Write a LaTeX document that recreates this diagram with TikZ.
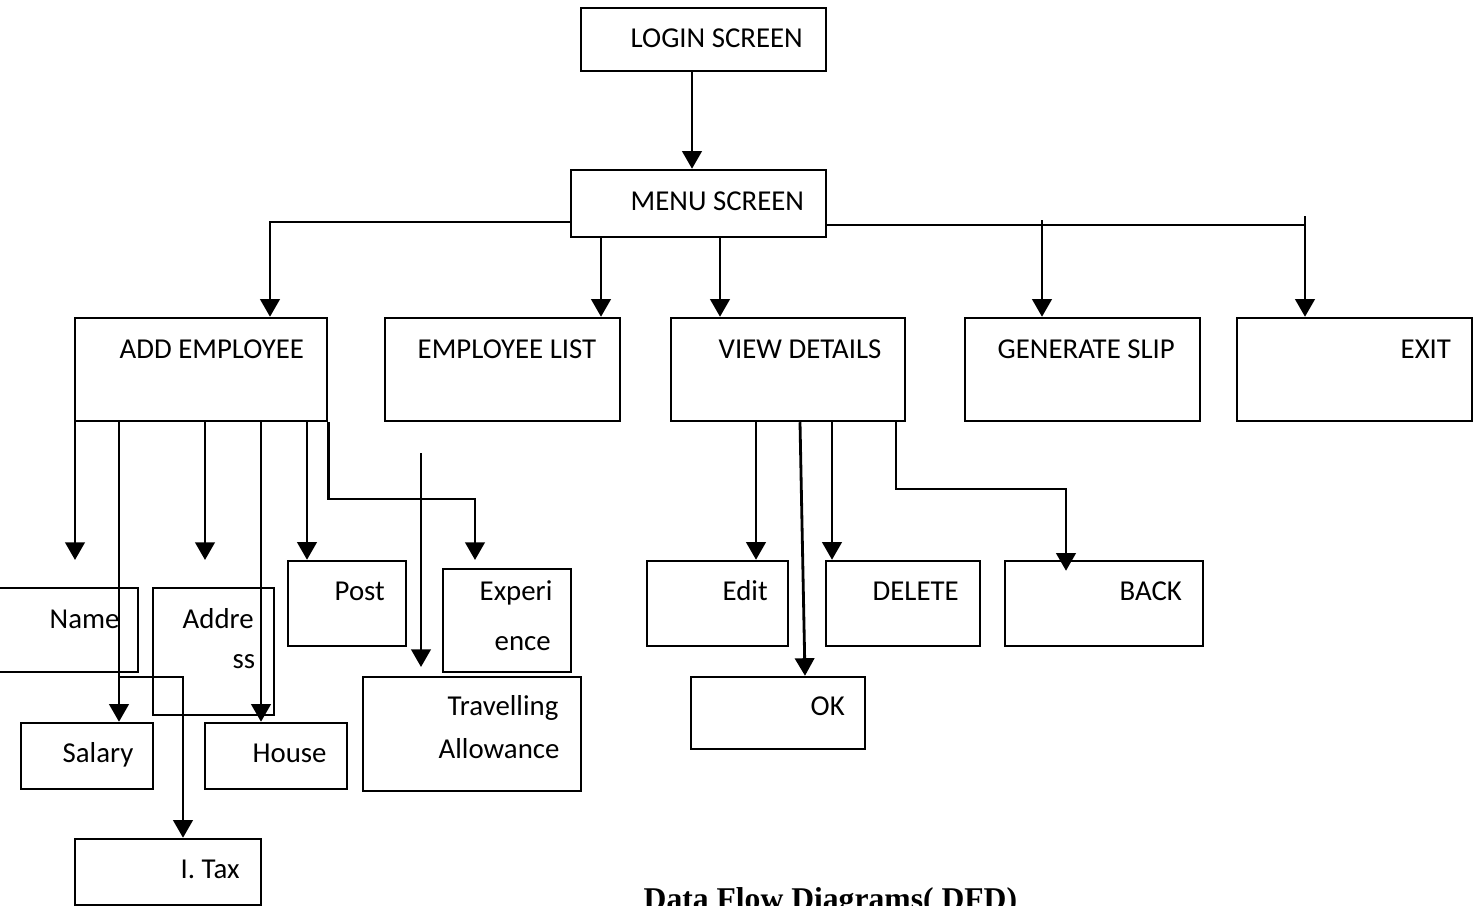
\documentclass[tikz,border=0pt]{standalone}
\usepackage{fontspec}
\setmainfont{Carlito}
\newfontfamily\titlefont{Liberation Serif}
\usepackage{tikz}
\usetikzlibrary{arrows.meta}

\tikzset{
	box/.style={draw, line width=0.7pt, inner sep=0pt},
	lbl/.style={anchor=base west, inner sep=0pt, font=\fontsize{8.2}{9.8}\selectfont},
	arr/.style={-{Triangle[length=5pt,width=5.5pt]}, line width=0.8pt},
	ln/.style={line width=0.8pt}
}

\begin{document}
\begin{tikzpicture}
		\clip (0,0) rectangle (14.8,-9.06);
		
		\node[box, minimum width=2.45cm, minimum height=0.63cm] (login) at (7.035,-0.395) {};
		\node[box, minimum width=2.55cm, minimum height=0.67cm] (menu) at (6.985,-2.035) {};
		\node[box, minimum width=2.52cm, minimum height=1.03cm] (addemp) at (2.01,-3.695) {};
		\node[box, minimum width=2.35cm, minimum height=1.03cm] (emplist) at (5.025,-3.695) {};
		\node[box, minimum width=2.34cm, minimum height=1.03cm] (viewdet) at (7.88,-3.695) {};
		\node[box, minimum width=2.35cm, minimum height=1.03cm] (genslip) at (10.825,-3.695) {};
		\node[box, minimum width=2.35cm, minimum height=1.03cm] (exit) at (13.545,-3.695) {};
		
		\node[box, minimum width=1.43cm, minimum height=0.84cm] (name) at (0.665,-6.30) {};
		\node[box, minimum width=1.21cm, minimum height=1.27cm] (address) at (2.135,-6.515) {};
		\node[box, minimum width=1.32cm, minimum height=0.66cm] (salary) at (0.87,-7.56) {};
		\node[box, minimum width=1.42cm, minimum height=0.66cm] (house) at (2.76,-7.56) {};
		\node[box, minimum width=1.86cm, minimum height=0.66cm] (itax) at (1.68,-8.72) {};
		\node[box, minimum width=1.18cm, minimum height=0.85cm] (post) at (3.47,-6.035) {};
		\node[box, minimum width=1.28cm, minimum height=1.03cm] (exper) at (5.07,-6.205) {};
		\node[box, minimum width=2.18cm, minimum height=1.14cm] (travel) at (4.72,-7.34) {};
		
		\node[box, minimum width=1.41cm, minimum height=0.85cm] (edit) at (7.175,-6.035) {};
		\node[box, minimum width=1.74cm, minimum height=0.72cm] (ok) at (7.78,-7.13) {};
		\node[box, minimum width=1.54cm, minimum height=0.85cm] (delete) at (9.03,-6.035) {};
		\node[box, minimum width=1.98cm, minimum height=0.85cm] (back) at (11.04,-6.035) {};
		
		\node[lbl] (tlogin) at (6.30,-0.47) {LOGIN SCREEN};
		\node[lbl] (tmenu) at (6.30,-2.10) {MENU SCREEN};
		\node[lbl] (taddemp) at (1.19,-3.58) {ADD EMPLOYEE};
		\node[lbl] (templist) at (4.17,-3.58) {EMPLOYEE LIST};
		\node[lbl] (tviewdet) at (7.18,-3.58) {VIEW DETAILS};
		\node[lbl] (tgenslip) at (9.97,-3.58) {GENERATE SLIP};
		\node[lbl] (texit) at (14.00,-3.58) {EXIT};
		\node[lbl] (tname) at (0.49,-6.28) {Name};
		\node[lbl] (taddr) at (1.82,-6.28) {Addre};
		\node[lbl] (taddr2) at (2.32,-6.68) {ss};
		\node[lbl] (tsalary) at (0.62,-7.62) {Salary};
		\node[lbl] (thouse) at (2.52,-7.62) {House};
		\node[lbl] (titax) at (1.80,-8.78) {I. Tax};
		\node[lbl] (tpost) at (3.34,-6.00) {Post};
		\node[lbl] (texper) at (4.79,-6.00) {Experi};
		\node[lbl] (texper2) at (4.94,-6.50) {ence};
		\node[lbl] (ttravel) at (4.47,-7.15) {Travelling};
		\node[lbl] (ttravel2) at (4.38,-7.58) {Allowance};
		\node[lbl] (tedit) at (7.22,-6.00) {Edit};
		\node[lbl] (tok) at (8.10,-7.15) {OK};
		\node[lbl] (tdelete) at (8.72,-6.00) {DELETE};
		\node[lbl] (tback) at (11.19,-6.00) {BACK};
		
		\node[anchor=base west, inner sep=0pt, font=\titlefont\bfseries\fontsize{9}{11}\selectfont] (title) at (6.43,-9.09) {Data Flow Diagrams( DFD)};
		
		\coordinate (xa) at (6.92,0);
		\coordinate (xb) at (6.01,0);
		\coordinate (xc) at (7.20,0);
		\coordinate (jl) at (2.70,-2.22);
		\coordinate (jr) at (13.05,-2.25);
		\coordinate (jexit) at (13.05,-2.16);
		\coordinate (jgen) at (10.42,-2.20);
		
		\draw[arr] (login.south -| xa) -- (menu.north -| xa);
		\draw[arr] (menu.west |- jl) -| (addemp.north -| jl);
		\draw[arr] (menu.south -| xb) -- (emplist.north -| xb);
		\draw[arr] (menu.south -| xc) -- (viewdet.north -| xc);
		\draw[ln] (menu.east |- jr) -- (jr);
		\draw[arr] (jgen) -- (genslip.north -| jgen);
		\draw[arr] (jexit) -- (exit.north -| jexit);
		
		\coordinate (aname) at (0.75,-5.60);
		\coordinate (aaddr) at (2.05,-5.60);
		\coordinate (xsal) at (1.19,0);
		\coordinate (xhouse) at (2.61,0);
		\coordinate (xpost) at (3.07,0);
		\coordinate (bend) at (4.75,-4.99);
		\coordinate (aexper) at (4.75,-5.60);
		\coordinate (tx) at (1.83,-6.77);
		\coordinate (trtop) at (4.21,-4.53);
		\coordinate (trend) at (4.21,-6.67);
		
		\draw[arr] (addemp.south -| aname) -- (aname);
		\draw[arr] (addemp.south -| xsal) -- (salary.north -| xsal);
		\draw[arr] (addemp.south -| aaddr) -- (aaddr);
		\draw[arr] (addemp.south -| xhouse) -- (house.north -| xhouse);
		\draw[arr] (addemp.south -| xpost) -- (post.north -| xpost);
		\draw[arr] (addemp.south east) |- (bend) -- (aexper);
		\draw[arr] (xsal |- tx) -- (tx) -- (itax.north -| tx);
		\draw[arr] (trtop) -- (trend);
		
		\coordinate (xedit) at (7.56,0);
		\coordinate (xok) at (8.00,0);
		\coordinate (xok2) at (8.05,0);
		\coordinate (xdel) at (8.32,0);
		\coordinate (xback) at (8.96,-4.89);
		\coordinate (bk) at (10.66,-4.89);
		
		\draw[arr] (viewdet.south -| xedit) -- (edit.north -| xedit);
		\draw[arr] (viewdet.south -| xok) -- (ok.north -| xok2);
		\draw[arr] (viewdet.south -| xdel) -- (delete.north -| xdel);
		\draw[arr] (viewdet.south -| xback) -- (xback) -- (bk) -- ([yshift=-1.1mm]back.north -| bk);
		
\end{tikzpicture}
\end{document}
